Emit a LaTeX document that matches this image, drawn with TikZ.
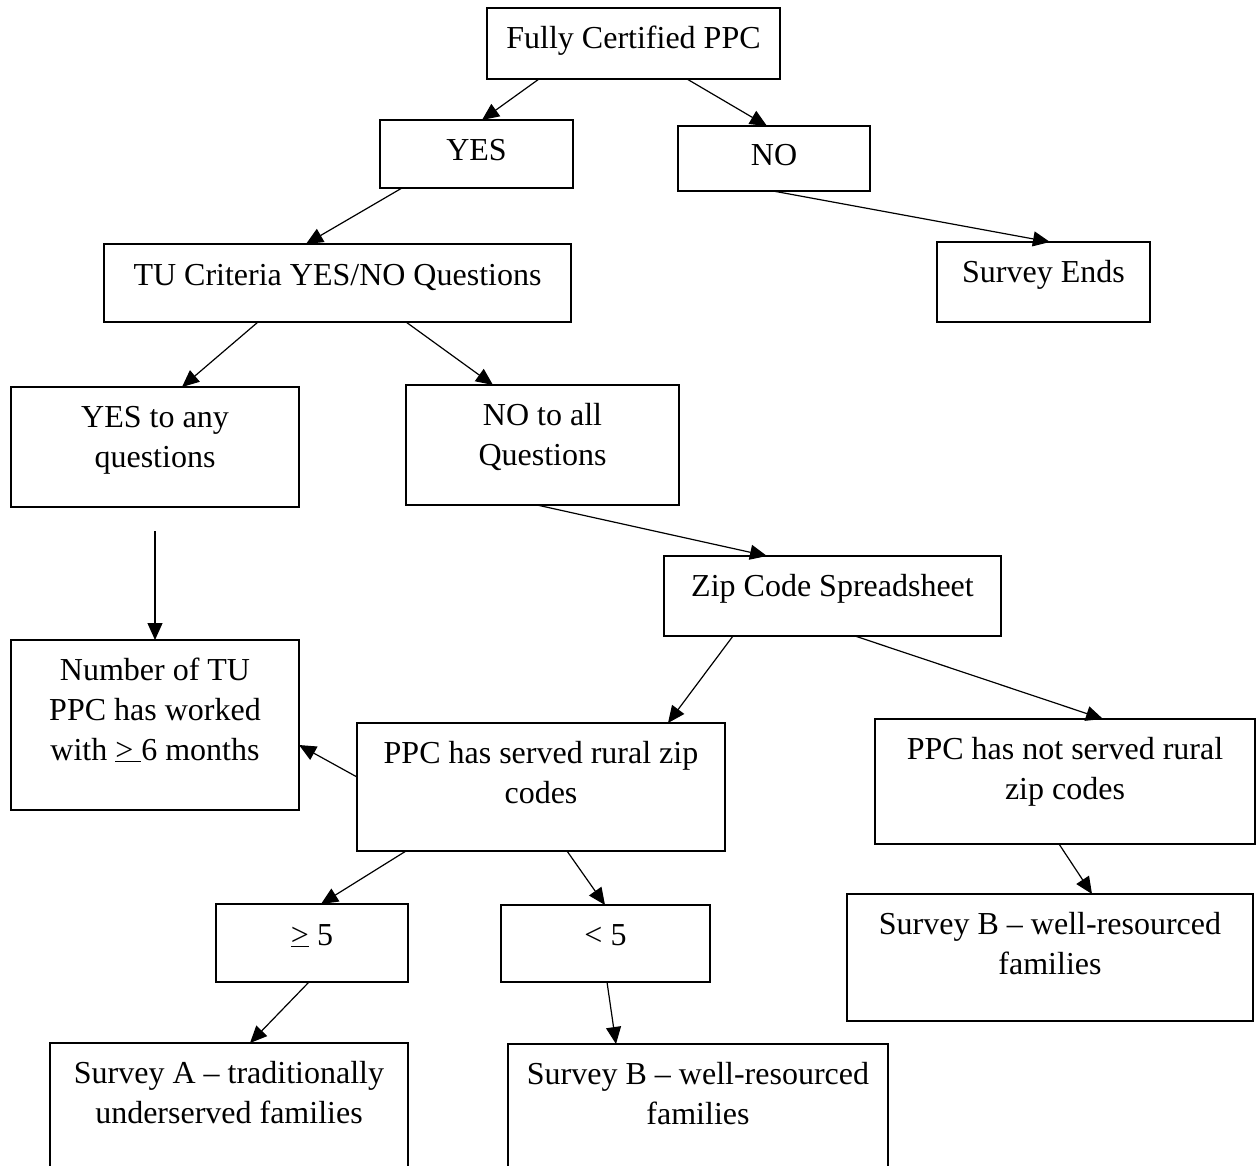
\documentclass[tikz,border=0pt]{standalone}
\usepackage{fontspec}
\setmainfont{Liberation Serif}
\usetikzlibrary{arrows.meta}
\newcommand\mylines[1]{\vtop{\halign{\hfil##\hfil\cr#1\crcr}}}
\begin{document}
\begin{tikzpicture}[x=1pt,y=-1pt]
\tikzset{
 box/.style={draw, line width=1.8pt, inner sep=0pt, outer sep=0pt},
 txt/.style={font=\fontsize{32}{40}\selectfont, inner sep=0pt, anchor=base},
 arr/.style={line width=1.2pt, -{Triangle[length=17pt,width=15pt]}}
}
\useasboundingbox (0,0) rectangle (1256,1165);
% boxes
\node[box, minimum width=293pt, minimum height=71pt] (fc) at (633.5,43.5) {};
\node[box, minimum width=193pt, minimum height=68pt] (yes) at (476.5,154) {};
\node[box, minimum width=192pt, minimum height=65pt] (no) at (774,158.5) {};
\node[box, minimum width=213pt, minimum height=80pt] (ends) at (1043.5,282) {};
\node[box, minimum width=467pt, minimum height=78pt] (tu) at (337.5,283) {};
\node[box, minimum width=288pt, minimum height=120pt] (yany) at (155,447) {};
\node[box, minimum width=273pt, minimum height=120pt] (noall) at (542.5,445) {};
\node[box, minimum width=337pt, minimum height=80pt] (zip) at (832.5,596) {};
\node[box, minimum width=288pt, minimum height=170pt] (num) at (155,725) {};
\node[box, minimum width=368pt, minimum height=128pt] (served) at (541,787) {};
\node[box, minimum width=380pt, minimum height=125pt] (notserved) at (1065,781.5) {};
\node[box, minimum width=192pt, minimum height=78pt] (ge5) at (312,943) {};
\node[box, minimum width=209pt, minimum height=77pt] (lt5) at (605.5,943.5) {};
\node[box, minimum width=406pt, minimum height=127pt] (survbr) at (1050,957.5) {};
\node[box, minimum width=358pt, minimum height=137pt] (surva) at (229,1111.5) {};
\node[box, minimum width=380pt, minimum height=136pt] (survbb) at (698,1112) {};
% texts
\node[txt] (fct) at (633.5,48) {Fully Certified PPC};
\node[txt] (yest) at (476.5,160) {YES};
\node[txt] (not) at (774,165) {NO};
\node[txt] (endst) at (1043.5,282) {Survey Ends};
\node[txt] (tut) at (337.5,285) {TU Criteria YES/NO Questions};
\node[txt] (yanyt) at (155,427) {\mylines{YES to any\cr questions}};
\node[txt] (noallt) at (542.5,425) {\mylines{NO to all\cr Questions}};
\node[txt] (zipt) at (832.5,596) {Zip Code Spreadsheet};
\node[txt] (numt) at (155,680) {\mylines{Number of TU\cr PPC has worked\cr with \underline{>\ }6 months}};
\node[txt] (servedt) at (541,763) {\mylines{PPC has served rural zip\cr codes}};
\node[txt] (notservedt) at (1065,759) {\mylines{PPC has not served rural\cr zip codes}};
\node[txt] (ge5t) at (312,945) {\underline{>} 5};
\node[txt] (lt5t) at (605.5,945) {< 5};
\node[txt] (survbrt) at (1050,934) {\mylines{Survey B – well-resourced\cr families}};
\node[txt] (survat) at (229,1083) {\mylines{Survey A – traditionally\cr underserved families}};
\node[txt] (survbbt) at (698,1084) {\mylines{Survey B – well-resourced\cr families}};
% connectors
\coordinate (ystart) at (155,531);
\draw[arr] ([xshift=-94.5pt]fc.south) -- ([xshift=5.5pt]yes.north);
\draw[arr] ([xshift=53.5pt]fc.south) -- ([xshift=-7pt]no.north);
\draw[arr] ([xshift=-74.5pt]yes.south) -- ([xshift=-31.5pt]tu.north);
\draw[arr] ([xshift=-1pt]no.south) -- ([xshift=6.5pt]ends.north);
\draw[arr] ([xshift=-79.5pt]tu.south) -- ([xshift=27pt]yany.north);
\draw[arr] ([xshift=68.5pt]tu.south) -- ([xshift=-49.5pt]noall.north);
\draw[arr] (ystart) -- (num.north);
\draw[arr] ([xshift=-5.5pt]noall.south) -- ([xshift=-65.5pt]zip.north);
\draw[arr] ([xshift=-99.5pt]zip.south) -- ([xshift=127pt]served.north);
\draw[arr] ([xshift=22.5pt]zip.south) -- ([xshift=38pt]notserved.north);
\draw[arr] ([yshift=10pt]served.west) -- ([yshift=-20pt]num.east);
\draw[arr] ([xshift=-135pt]served.south) -- ([xshift=9pt]ge5.north);
\draw[arr] ([xshift=26pt]served.south) -- ([xshift=-0.5pt]lt5.north);
\draw[arr] ([xshift=-6pt]notserved.south) -- ([xshift=42pt]survbr.north);
\draw[arr] ([xshift=-3pt]ge5.south) -- ([xshift=21pt]surva.north);
\draw[arr] ([xshift=1.5pt]lt5.south) -- ([xshift=-82pt]survbb.north);
\end{tikzpicture}
\end{document}
